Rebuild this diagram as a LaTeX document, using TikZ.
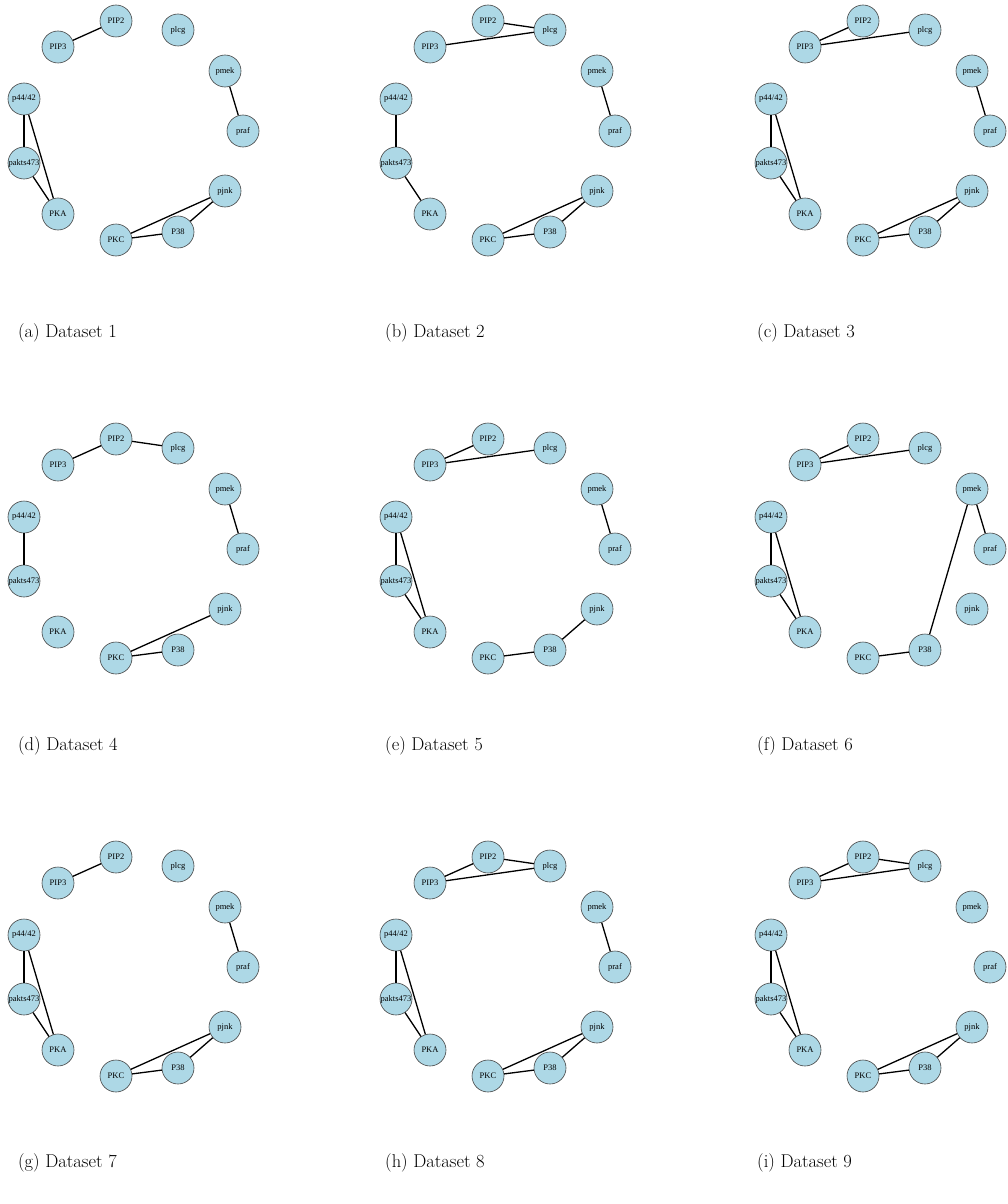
\documentclass[tikz,border=0pt]{standalone}
\usepackage{fontspec}
\newfontfamily\nodefont{Liberation Serif}
\definecolor{nodeblue}{RGB}{173,216,230}
\definecolor{nodeline}{RGB}{70,70,70}
\tikzset{
  gn/.style={circle, draw=nodeline, line width=0.6pt, fill=nodeblue, minimum size=32pt, inner sep=0pt, font=\nodefont\fontsize{8.5}{9}\selectfont},
  edge/.style={line width=1.3pt, black},
  captext/.style={anchor=west, inner sep=0pt, font=\fontsize{18.5}{21}\selectfont}
}
\newcommand\drawnet[3]{%
  \begin{scope}[shift={#2}]
    \node[gn] (#1PIP2) at (116,21) {PIP2};
    \node[gn] (#1PIP3) at (58,47) {PIP3};
    \node[gn] (#1pkcg) at (178,30) {plcg};
    \node[gn] (#1pmek) at (225,71) {pmek};
    \node[gn] (#1praf) at (243,131) {praf};
    \node[gn] (#1pjnk) at (225,191) {pjnk};
    \node[gn] (#1P38) at (178,232) {P38};
    \node[gn] (#1PKC) at (116,240) {PKC};
    \node[gn] (#1PKA) at (58,214) {PKA};
    \node[gn] (#1pakts) at (24,163) {pakts473};
    \node[gn] (#1p44) at (24,99) {p44/42};
  \end{scope}
  \foreach \a/\b in {#3} \draw[edge] (#1\a) -- (#1\b);
}
\begin{document}
\begin{tikzpicture}[x=1pt,y=-1pt]
\useasboundingbox[fill=white] (0,0) rectangle (1008,1204);
% row 1
\drawnet{a}{(0,0)}{PIP3/PIP2,pmek/praf,p44/pakts,p44/PKA,pakts/PKA,pjnk/PKC,pjnk/P38,PKC/P38}
\drawnet{b}{(372,0)}{PIP2/pkcg,PIP3/pkcg,pmek/praf,p44/pakts,pakts/PKA,pjnk/PKC,pjnk/P38,PKC/P38}
\drawnet{c}{(747,0)}{PIP3/PIP2,PIP3/pkcg,pmek/praf,p44/pakts,p44/PKA,pakts/PKA,pjnk/PKC,pjnk/P38,PKC/P38}
% row 2
\drawnet{d}{(0,418)}{PIP3/PIP2,PIP2/pkcg,pmek/praf,p44/pakts,pjnk/PKC,PKC/P38}
\drawnet{e}{(372,418)}{PIP3/PIP2,PIP3/pkcg,pmek/praf,p44/pakts,p44/PKA,pakts/PKA,pjnk/P38,PKC/P38}
\drawnet{f}{(747,418)}{PIP3/PIP2,PIP3/pkcg,pmek/praf,pmek/P38,p44/pakts,p44/PKA,pakts/PKA,PKC/P38}
% row 3
\drawnet{g}{(0,836)}{PIP3/PIP2,pmek/praf,p44/pakts,p44/PKA,pakts/PKA,pjnk/PKC,pjnk/P38,PKC/P38}
\drawnet{h}{(372,836)}{PIP3/PIP2,PIP2/pkcg,PIP3/pkcg,pmek/praf,p44/pakts,p44/PKA,pakts/PKA,pjnk/PKC,pjnk/P38,PKC/P38}
\drawnet{i}{(747,836)}{PIP3/PIP2,PIP2/pkcg,PIP3/pkcg,p44/pakts,p44/PKA,pakts/PKA,pjnk/PKC,pjnk/P38,PKC/P38}
% captions
\node[captext] (capa) at (18,333) {(a) Dataset 1};
\node[captext] (capb) at (385,333) {(b) Dataset 2};
\node[captext] (capc) at (757,333) {(c) Dataset 3};
\node[captext] (capd) at (18,746) {(d) Dataset 4};
\node[captext] (cape) at (385,746) {(e) Dataset 5};
\node[captext] (capf) at (757,746) {(f) Dataset 6};
\node[captext] (capg) at (18,1163) {(g) Dataset 7};
\node[captext] (caph) at (385,1163) {(h) Dataset 8};
\node[captext] (capi) at (757,1163) {(i) Dataset 9};
\end{tikzpicture}
\end{document}
